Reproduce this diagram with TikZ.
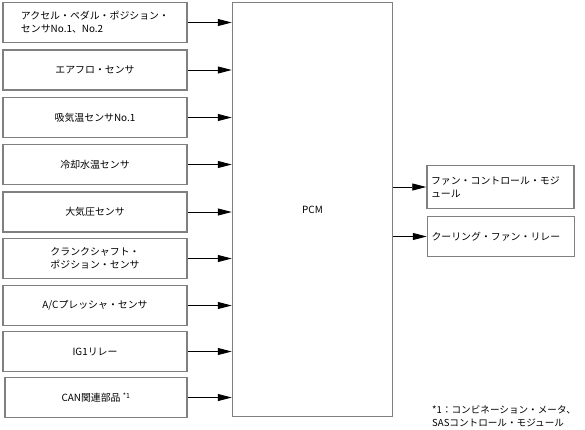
\documentclass[tikz,border=0pt]{standalone}
\usepackage{fontspec}
\setmainfont{Noto Sans CJK JP}
\usetikzlibrary{arrows.meta,positioning}
\definecolor{pcgray}{HTML}{808080}
\tikzset{
  partBox/.style={draw=pcgray, line width=1.5bp, fill=white, minimum width=184bp, minimum height=40bp, align=left, inner sep=2pt},
  outBox/.style={draw=pcgray, line width=1.5bp, fill=white, minimum width=147bp, text width=139bp, align=left, inner sep=3pt},
  sigArrow/.style={-{Triangle[length=14bp, width=7bp]}, line width=0.9bp, draw=black},
  noteText/.style={align=left, inner sep=0pt, font=\fontsize{9.6bp}{13bp}\selectfont}
}

\begin{document}
\begin{tikzpicture}[x=1bp,y=-1bp, font=\fontsize{9.9bp}{13bp}\selectfont]
  \useasboundingbox (0,0) rectangle (585,429);
  % inputs
  \node[partBox] (acc) at (95,22.5) {アクセル・ペダル・ポジション・\\センサNo.1、No.2};
  \node[partBox] (afm) at (95,70) {エアフロ・センサ};
  \node[partBox] (iat) at (95,117.5) {吸気温センサNo.1};
  \node[partBox] (ect) at (95,164.5) {冷却水温センサ};
  \node[partBox] (bar) at (95,212) {大気圧センサ};
  \node[partBox] (ckp) at (95,258.5) {クランクシャフト・\\ポジション・センサ};
  \node[partBox] (acp) at (95,305.5) {A/Cプレッシャ・センサ};
  \node[partBox] (ig1) at (95,351.5) {IG1リレー};
  \node[partBox, minimum width=182bp] (can) at (96,397.5) {CAN関連部品 \textsuperscript{*1}};
  % PCM
  \node[draw=pcgray, line width=1.5bp, minimum width=160bp, minimum height=414bp] (pcm) at (312.5,209.5) {PCM};
  % outputs
  \node[outBox, minimum height=43bp] (fcm) at (500.5,187) {ファン・コントロール・モジ\\ュール};
  \node[outBox, minimum height=40bp] (cfr) at (501,236.5) {クーリング・ファン・リレー};
  \node[noteText, anchor=west] (note) at (432,416.5) {*1：コンビネーション・メータ、\\SASコントロール・モジュール};
  \foreach \s in {acc,afm,iat,ect,bar,ckp,acp,ig1,can}
    \draw[sigArrow] (\s.east) -- (\s.east -| pcm.west);
  \draw[sigArrow] (fcm.west -| pcm.east) -- (fcm.west);
  \draw[sigArrow] (cfr.west -| pcm.east) -- (cfr.west);
\end{tikzpicture}
\end{document}
